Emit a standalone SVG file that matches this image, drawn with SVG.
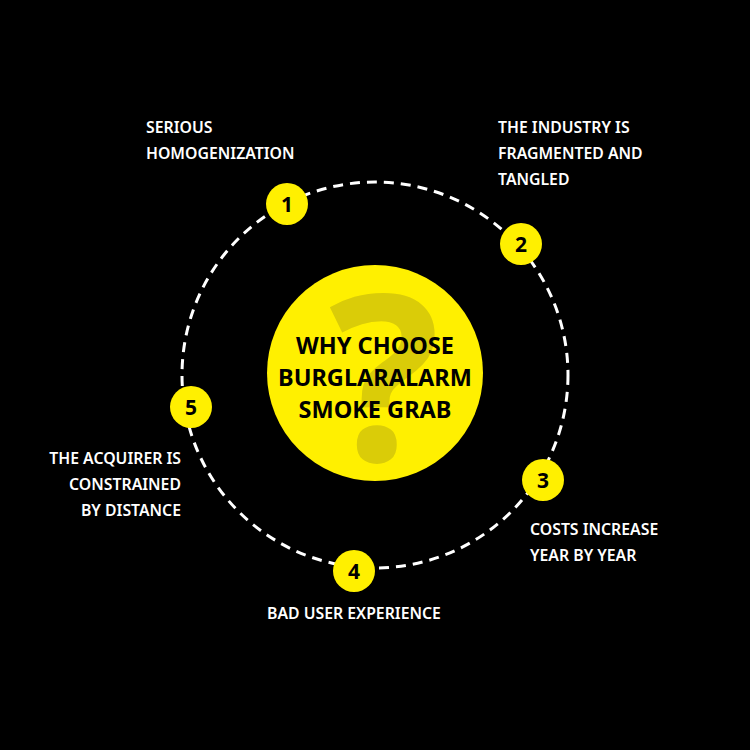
<svg xmlns="http://www.w3.org/2000/svg" width="750" height="750" viewBox="0 0 750 750">
<style>
.lbl{font-family:"Noto Sans","Open Sans",sans-serif;font-weight:600;font-size:15.8px;fill:#ffffff}
.num{font-family:"Noto Sans","Open Sans",sans-serif;font-weight:700;font-size:21px;fill:#000000;text-anchor:middle}
.dot{fill:#fff000}
.ctr{font-family:"Noto Sans","Open Sans",sans-serif;font-weight:700;font-size:23.5px;fill:#000000;text-anchor:middle}
</style>
<rect width="750" height="750" fill="#000000"/>
<g id="connectors">
<circle cx="375" cy="375" r="193" fill="none" stroke="#ffffff" stroke-width="3" stroke-dasharray="10 7"/>
</g>
<g id="center">
<circle cx="375" cy="373" r="108" fill="#fff000"/>
<text x="384" y="461" font-family="Noto Sans, sans-serif" font-weight="700" font-size="232" fill="#dacc08" text-anchor="middle">?</text>
<text class="ctr" x="375" y="354">WHY CHOOSE</text>
<text class="ctr" x="375" y="386">BURGLARALARM</text>
<text class="ctr" x="375" y="418">SMOKE GRAB</text>
</g>
<g id="node1">
<circle class="dot" cx="287" cy="204" r="21"/>
<text class="num" x="287" y="212">1</text>
<text class="lbl" x="146" y="133">SERIOUS</text>
<text class="lbl" x="146" y="159">HOMOGENIZATION</text>
</g>
<g id="node2">
<circle class="dot" cx="521" cy="244" r="21"/>
<text class="num" x="521" y="252">2</text>
<text class="lbl" x="498" y="133">THE INDUSTRY IS</text>
<text class="lbl" x="498" y="159">FRAGMENTED AND</text>
<text class="lbl" x="498" y="185">TANGLED</text>
</g>
<g id="node3">
<circle class="dot" cx="543" cy="480" r="21"/>
<text class="num" x="543" y="488">3</text>
<text class="lbl" x="530" y="535">COSTS INCREASE</text>
<text class="lbl" x="530" y="561">YEAR BY YEAR</text>
</g>
<g id="node4">
<circle class="dot" cx="354" cy="571" r="21"/>
<text class="num" x="354" y="579">4</text>
<text class="lbl" x="267" y="619">BAD USER EXPERIENCE</text>
</g>
<g id="node5">
<circle class="dot" cx="191" cy="407" r="21"/>
<text class="num" x="191" y="415">5</text>
<text class="lbl" x="181" y="464" text-anchor="end">THE ACQUIRER IS</text>
<text class="lbl" x="181" y="490" text-anchor="end">CONSTRAINED</text>
<text class="lbl" x="181" y="516" text-anchor="end">BY DISTANCE</text>
</g>
</svg>
